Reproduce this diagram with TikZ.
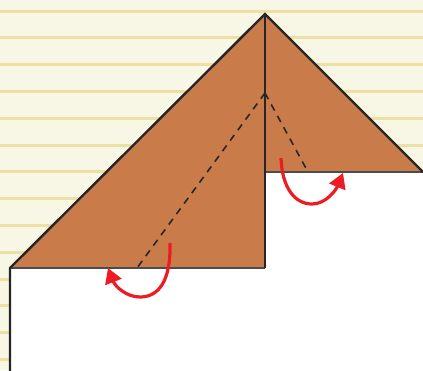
\documentclass[tikz,border=0pt]{standalone}
\usepackage{tikz}
\usetikzlibrary{arrows.meta}
\definecolor{paper}{HTML}{F8F6E4}
\definecolor{ruling}{HTML}{ECE1A4}
\definecolor{kraft}{HTML}{C97B4A}
\definecolor{foldred}{HTML}{ED1C24}

\begin{document}
\begin{tikzpicture}[x=1pt, y=-1pt,
  ruleline/.style={ruling, line width=3pt},
  edge/.style={draw=black!85, line width=2.4pt, line join=miter},
  rim/.style={black!70, line width=1.8pt},
  crease/.style={black!85, line width=1.6pt, dash pattern=on 7pt off 6pt},
  turn/.style={foldred, line width=3.2pt, -{Triangle[length=15pt,width=17pt]}}]
\useasboundingbox (0,0) rectangle (423,370);
\fill[paper] (0,0) rectangle (423,370);
\foreach \k in {0,...,13}{
  \draw[ruleline] (0,11+26.8*\k) -- (423,11+26.8*\k);
}
\coordinate (apex) at (265,14);
\coordinate (lc) at (10,268);
\coordinate (rc) at (423,172);
\coordinate (inner) at (265,172);
\coordinate (foot) at (265,268);
\coordinate (pin) at (265,93);
\coordinate (lcrease) at (137,268);
\coordinate (rcrease) at (308,172);
\fill[white] (lc) -- (foot) -- (inner) -- (rc) -- (423,370) -- (10,370) -- cycle;
\fill[kraft] (lc) -- (apex) -- (rc) -- (inner) -- (foot) -- cycle;
\draw[rim] (lc) -- (foot) (inner) -- (rc);
\draw[edge] (10,371) -- (lc) -- (apex) -- (rc);
\draw[edge] (apex) -- (foot);
\draw[crease] (pin) -- (lcrease);
\draw[crease] (pin) -- (rcrease);
\coordinate (la) at (170,243);
\coordinate (lb) at (108,268);
\coordinate (ra) at (281,158);
\coordinate (rb) at (343,173);
\draw[turn] (la) .. controls (171,282) and (158,297) .. (140,297)
  .. controls (126,297) and (115,286) .. (lb);
\draw[turn] (ra) .. controls (282,188) and (295,204) .. (312,204)
  .. controls (326,204) and (336,190) .. (rb);
\end{tikzpicture}
\end{document}
